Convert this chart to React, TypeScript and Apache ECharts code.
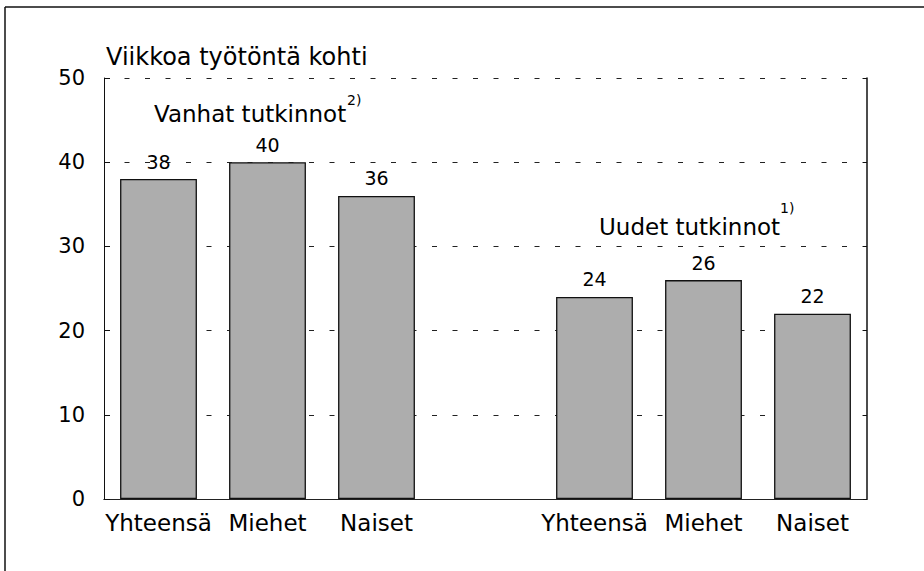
import React, { useEffect, useRef } from "react";
import * as echarts from "echarts";

const categories = ["Yhteensä", "Miehet", "Naiset", "", "Yhteensä", "Miehet", "Naiset"];
const values: (number | string)[] = [38, 40, 36, "-", 24, 26, 22];
const yTicks = { min: 0, max: 50, interval: 10 };
const titleText = "Viikkoa työtöntä kohti";
const groupOld = "Vanhat tutkinnot";
const groupOldNote = "2)";
const groupNew = "Uudet tutkinnot";
const groupNewNote = "1)";

const FONT = "DejaVu Sans";

export default function App() {
  const ref = useRef<HTMLDivElement>(null);
  useEffect(() => {
    if (!ref.current) return;
    const chart = echarts.init(ref.current, undefined, { renderer: "svg" });
    chart.setOption({
      animation: false,
      backgroundColor: "#fff",
      grid: { left: 104, right: 57, top: 78, bottom: 72, containLabel: false },
      xAxis: [
        {
          type: "category",
          data: categories,
          position: "bottom",
          axisLine: { show: true, lineStyle: { color: "#444", width: 1, type: "dotted" } },
          axisTick: { show: false },
          axisLabel: { color: "#000", fontSize: 23, fontFamily: FONT, margin: 12, interval: 0 },
        },
        {
          type: "category",
          data: categories,
          position: "top",
          axisLine: { show: true, lineStyle: { color: "#222", width: 1 } },
          axisTick: { show: false },
          axisLabel: { show: false },
        },
      ],
      yAxis: [
        {
          type: "value",
          min: yTicks.min,
          max: yTicks.max,
          interval: yTicks.interval,
          position: "left",
          axisLine: { show: true, lineStyle: { color: "#111", width: 1 } },
          axisTick: { show: true, inside: true, length: 6, lineStyle: { color: "#111" } },
          axisLabel: { color: "#000", fontSize: 21, fontFamily: FONT, margin: 19 },
          splitLine: {
            show: true,
            lineStyle: { color: "#222", width: 1, type: [5, 15.5] },
          },
        },
        {
          type: "value",
          min: yTicks.min,
          max: yTicks.max,
          interval: yTicks.interval,
          position: "right",
          axisLine: { show: true, lineStyle: { color: "#111", width: 1.5 } },
          axisTick: { show: true, inside: true, length: 4, lineStyle: { color: "#111" } },
          axisLabel: { show: false },
          splitLine: { show: false },
        },
      ],
      series: [
        {
          type: "bar",
          data: values,
          barWidth: "70.5%",
          itemStyle: { color: "#adadad", borderColor: "#111", borderWidth: 1.3 },
          label: {
            show: true,
            position: "top",
            distance: 8,
            color: "#000",
            fontSize: 19,
            fontFamily: FONT,
          },
        },
      ],
      graphic: [
        {
          type: "line",
          shape: { x1: 5, y1: 7, x2: 924, y2: 7 },
          style: { stroke: "#111", lineWidth: 1.5 },
        },
        {
          type: "line",
          shape: { x1: 5, y1: 7, x2: 5, y2: 571 },
          style: { stroke: "#111", lineWidth: 1.5 },
        },
        {
          type: "text",
          x: 106,
          y: 57,
          style: { text: titleText, fontSize: 24, fontFamily: FONT, fill: "#000", verticalAlign: "middle", align: "left" },
        },
        {
          type: "text",
          x: 154,
          y: 114,
          style: { text: groupOld, fontSize: 23, fontFamily: FONT, fill: "#000", verticalAlign: "middle", align: "left" },
        },
        {
          type: "text",
          x: 347,
          y: 100,
          style: { text: groupOldNote, fontSize: 14, fontFamily: FONT, fill: "#000", verticalAlign: "middle", align: "left" },
        },
        {
          type: "text",
          x: 599,
          y: 227,
          style: { text: groupNew, fontSize: 23, fontFamily: FONT, fill: "#000", verticalAlign: "middle", align: "left" },
        },
        {
          type: "text",
          x: 780,
          y: 208,
          style: { text: groupNewNote, fontSize: 14, fontFamily: FONT, fill: "#000", verticalAlign: "middle", align: "left" },
        },
      ],
    });
    return () => chart.dispose();
  }, []);
  return (
    <div
      ref={ref}
      style={{ position: "absolute", left: 0, top: 0, width: 924, height: 571 }}
    />
  );
}
